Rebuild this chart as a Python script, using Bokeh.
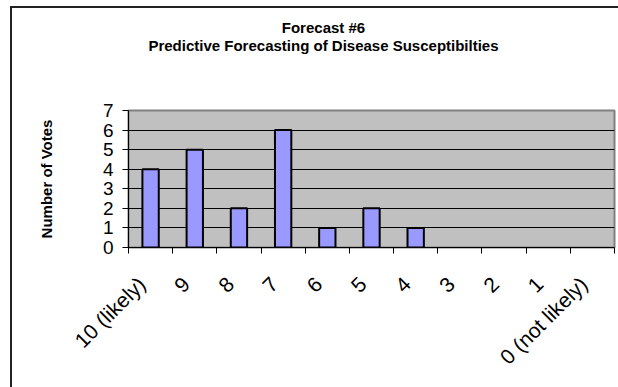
import math

from bokeh.embed import file_html
from bokeh.layouts import column
from bokeh.models import ColumnDataSource, Div, FixedTicker, Range1d
from bokeh.plotting import figure
from bokeh.resources import INLINE

# Chart data
categories = ["10 (likely)", "9", "8", "7", "6", "5", "4", "3", "2", "1", "0 (not likely)"]
votes = [4, 5, 2, 6, 1, 2, 1, 0, 0, 0, 0]
y_ticks = [0, 1, 2, 3, 4, 5, 6, 7]
title_lines = ["Forecast #6", "Predictive Forecasting of Disease Susceptibilties"]
y_title = "Number of Votes"

FONT = "Liberation Sans"
W, H = 618, 387
HEAD = 60  # height of the title block above the plot

# title block (two centred bold lines)
head = Div(
    text=(
        '<div style="box-sizing:border-box; width:%dpx; padding:19px 0 0 29px; margin:0; '
        "text-align:center; font-family:'%s'; font-weight:bold; font-size:15px; "
        'line-height:18px; color:black;">%s</div>'
    ) % (W, FONT, "<br>".join(title_lines)),
    width=W, height=HEAD, margin=0,
)

# category slots on a numeric axis: bars at slot centres, ticks at slot edges
centers = [i + 0.5 for i in range(len(categories))]
edges = list(range(len(categories) + 1))
# slanted labels hang so that their upper end sits just left of the slot centre
label_pos = [c - 0.2 for c in centers]

p = figure(
    width=W, height=H - HEAD,
    output_backend="svg", toolbar_location=None,
    x_range=Range1d(0, len(categories)), y_range=Range1d(0, max(y_ticks)),
    min_border_left=128, min_border_right=4, min_border_top=110 - HEAD, min_border_bottom=140,
    background_fill_color="#C0C0C0", border_fill_color=None, margin=0,
)
p.outline_line_color = "#808080"
p.outline_line_width = 2

# bars (empty categories draw nothing)
src = ColumnDataSource(dict(
    x=[c for c, v in zip(centers, votes) if v > 0],
    top=[v for v in votes if v > 0],
))
p.vbar(x="x", top="top", bottom=0, width=0.37, source=src,
       fill_color="#9999FF", line_color="black", line_width=2)

# horizontal grid
p.xgrid.visible = False
p.ygrid.ticker = FixedTicker(ticks=y_ticks[1:-1])
p.ygrid.grid_line_color = "black"
p.ygrid.grid_line_width = 1

# y axis
ya = p.yaxis[0]
ya.ticker = FixedTicker(ticks=y_ticks)
ya.axis_line_color = "black"
ya.axis_line_width = 1
ya.major_tick_out = 6
ya.major_tick_in = 0
ya.major_tick_line_color = "black"
ya.minor_tick_line_color = None
ya.major_label_text_font = FONT
ya.major_label_text_font_size = "19px"
ya.major_label_text_color = "black"
ya.major_label_standoff = 9
ya.axis_label = y_title
ya.axis_label_text_font = FONT
ya.axis_label_text_font_size = "15px"
ya.axis_label_text_font_style = "bold"
ya.axis_label_text_color = "black"
ya.axis_label_standoff = 45

# x axis
xa = p.xaxis[0]
xa.ticker = FixedTicker(ticks=label_pos, minor_ticks=edges)
xa.major_label_overrides = {x: lab for x, lab in zip(label_pos, categories)}
xa.axis_line_color = "black"
xa.axis_line_width = 1
xa.major_tick_out = 0
xa.major_tick_in = 0
xa.minor_tick_out = 6
xa.minor_tick_in = 0
xa.minor_tick_line_color = "black"
xa.major_label_orientation = math.pi / 4
xa.major_label_text_font = FONT
xa.major_label_text_font_size = "21px"
xa.major_label_text_color = "black"
xa.major_label_standoff = 27

# page: white chart area with its frame lines on the left and top
page = column(
    head, p, width=W, height=H, spacing=0, margin=0,
    styles={
        "background-color": "white",
        "background-image": "linear-gradient(#222,#222), linear-gradient(#222,#222)",
        "background-size": "2px 100%, 100% 2px",
        "background-position": "10px 6px, 10px 6px",
        "background-repeat": "no-repeat",
    },
)

open("out.html", "w").write(file_html(page, INLINE))
